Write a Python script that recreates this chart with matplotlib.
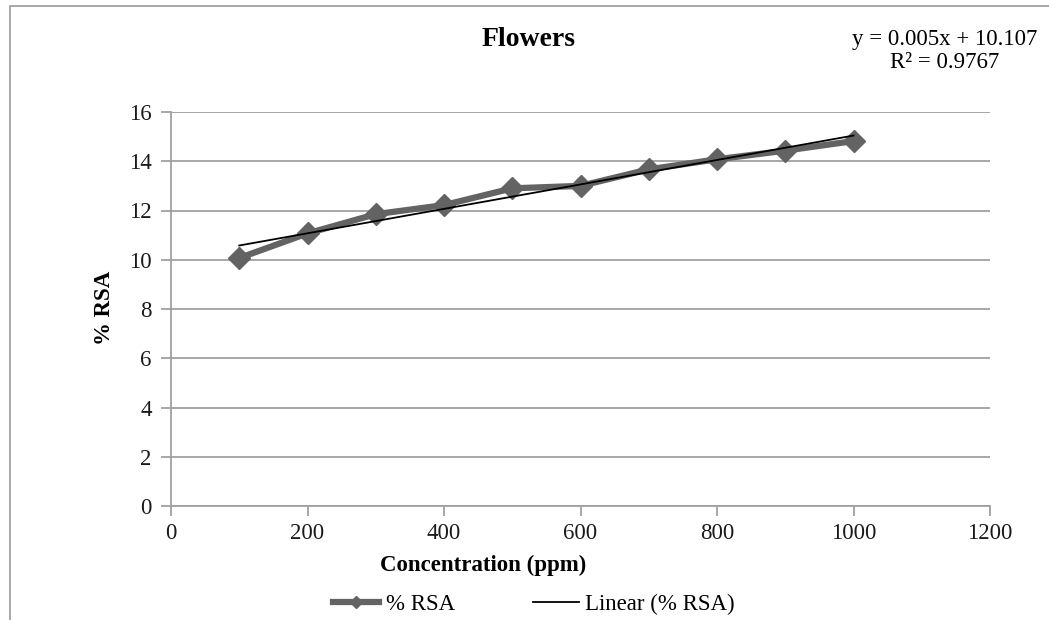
import matplotlib.pyplot as plt
import numpy as np
from matplotlib.patches import Rectangle

# Data
conc = [100, 200, 300, 400, 500, 600, 700, 800, 900, 1000]
rsa = [10.07, 11.07, 11.85, 12.22, 12.9, 13.0, 13.67, 14.08, 14.43, 14.82]

x_ticks = [0, 200, 400, 600, 800, 1000, 1200]
y_ticks = [0, 2, 4, 6, 8, 10, 12, 14, 16]

plt.rcParams['font.family'] = ['Liberation Serif', 'DejaVu Serif']

W, H = 1049, 620
fig = plt.figure(figsize=(W / 100, H / 100), dpi=100)
ax = fig.add_axes([171 / W, 1 - 506 / H, (990 - 171) / W, (506 - 112) / H])

# linear trendline
coef = np.polyfit(conc, rsa, 1)
xs = np.array([conc[0], conc[-1]])

gray = '#a0a0a0'
ax.plot(conc, rsa, color='#636363', lw=4.5, marker='D', markersize=11,
        label='% RSA', zorder=3)
ax.plot(xs, np.polyval(coef, xs), color='black', lw=1.3,
        label='Linear (% RSA)', zorder=4)

ax.set_xlim(0, 1200)
ax.set_ylim(0, 16)
ax.set_xticks(x_ticks)
ax.set_yticks(y_ticks)
ax.grid(axis='y', color=gray, lw=1.3)
ax.set_axisbelow(True)
for s in ['top', 'right']:
    ax.spines[s].set_visible(False)
for s in ['left', 'bottom']:
    ax.spines[s].set_color(gray)
    ax.spines[s].set_linewidth(1.3)
ax.tick_params(axis='both', colors=gray, labelcolor='#1a1a1a', labelsize=16.5,
               length=7, width=1.3)
ax.tick_params(axis='x', pad=5)
ax.tick_params(axis='y', pad=7)

fig.text(483 / W, 1 - 565 / H, 'Concentration (ppm)', fontsize=16.5,
         fontweight='bold', ha='center', va='center')
fig.text(105 / W, 1 - 308 / H, '% RSA', fontsize=16.5, fontweight='bold',
         rotation=90, ha='center', va='center')

fig.text(529 / W, 1 - 40 / H, 'Flowers', fontsize=20, fontweight='bold',
         ha='center', va='center')
fig.text(945 / W, 1 - 40 / H, 'y = 0.005x + 10.107', fontsize=16.5,
         ha='center', va='center')
fig.text(945 / W, 1 - 63 / H, 'R² = 0.9767', fontsize=16.5,
         ha='center', va='center')

fig.legend(loc='center', bbox_to_anchor=(534 / W, 1 - 604 / H), ncol=2,
           frameon=False, fontsize=16.5, handlelength=2.0, columnspacing=3.4,
           handletextpad=0.3, markerscale=0.6)

fig.patches.append(Rectangle((10 / W, -0.1), 1.2, 1 - 6 / H + 0.1,
                             transform=fig.transFigure, fill=False,
                             edgecolor=gray, lw=1.3))

fig.savefig('out.png', dpi=100)
